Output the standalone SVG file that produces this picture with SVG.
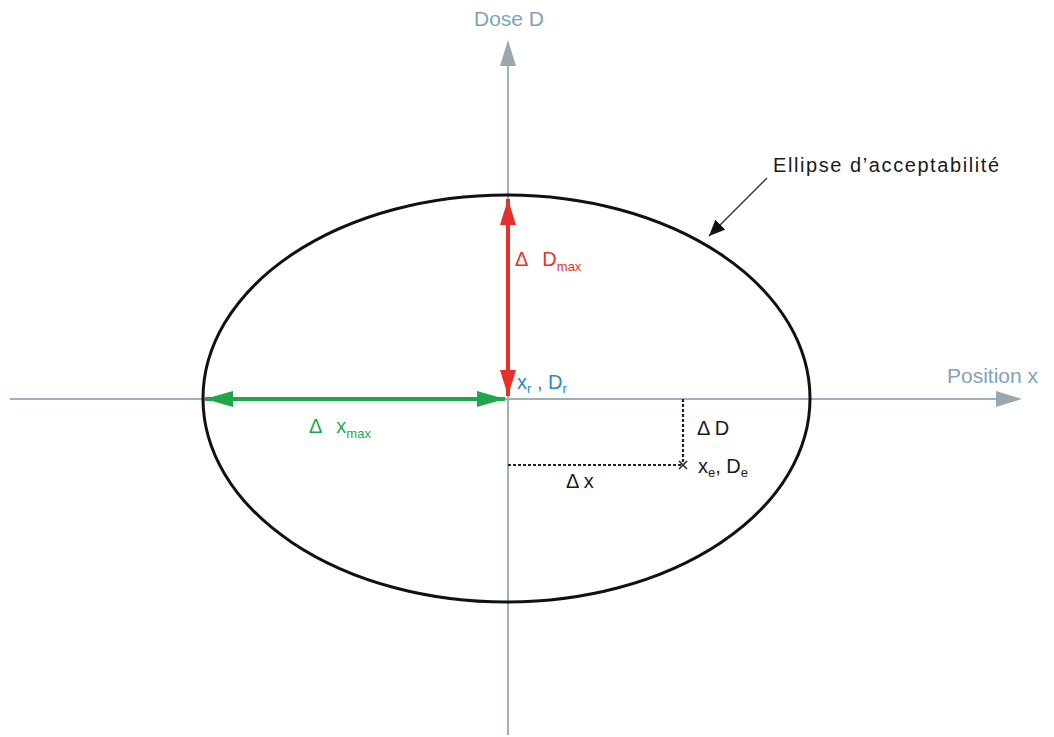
<svg xmlns="http://www.w3.org/2000/svg" width="1054" height="737" viewBox="0 0 1054 737">
<defs>
<style>
text{font-family:"Liberation Sans",Arial,sans-serif;}
.axis{stroke:#9fb0bd;stroke-width:2;fill:none}
.axl{fill:#7ea3bb;font-size:21px}
.blk{fill:#1a1a1a;font-size:20px}
.dot{stroke:#222;stroke-width:2.2;stroke-dasharray:3 2;fill:none}
</style>
<marker id="ar" viewBox="0 0 10 10" refX="10" refY="5" markerWidth="26" markerHeight="16" markerUnits="userSpaceOnUse" orient="auto-start-reverse" preserveAspectRatio="none"><path d="M0,0 L10,5 L0,10 z" fill="#e8302a"/></marker>
<marker id="agr" viewBox="0 0 10 10" refX="10" refY="5" markerWidth="28" markerHeight="16" markerUnits="userSpaceOnUse" orient="auto-start-reverse" preserveAspectRatio="none"><path d="M0,0 L10,5 L0,10 z" fill="#1fa64a"/></marker>
<marker id="ab" viewBox="0 0 10 10" refX="10" refY="5" markerWidth="16" markerHeight="14" markerUnits="userSpaceOnUse" orient="auto" preserveAspectRatio="none"><path d="M0,0 L10,5 L0,10 z" fill="#111"/></marker>
</defs>
<rect width="1054" height="737" fill="#fff"/>
<g id="connectors">
<line class="axis" x1="10" y1="399" x2="1010" y2="399"/>
<path d="M996,391 L1022,399 L996,407 z" fill="#9aa7b1"/>
<line class="axis" x1="508" y1="735" x2="508" y2="58"/>
<path d="M500,66 L508,40 L516,66 z" fill="#9aa7b1"/>
<line x1="508" y1="199" x2="508" y2="396" stroke="#e8302a" stroke-width="4" marker-start="url(#ar)" marker-end="url(#ar)"/>
<line x1="205" y1="399" x2="505" y2="399" stroke="#1fa64a" stroke-width="4" marker-start="url(#agr)" marker-end="url(#agr)"/>
<line x1="767" y1="178" x2="709" y2="236" stroke="#2a3a48" stroke-width="1.5" marker-end="url(#ab)"/>
<line class="dot" x1="683" y1="399" x2="683" y2="465"/>
<line class="dot" x1="508" y1="465" x2="683" y2="465"/>
<path d="M679,461 L687,469 M687,461 L679,469" stroke="#222" stroke-width="1.5"/>
</g>
<g id="ellipse">
<ellipse cx="506.5" cy="398.5" rx="303.5" ry="203.5" fill="none" stroke="#111" stroke-width="3"/>
</g>
<g id="dose-axis-label"><text class="axl" x="474" y="26">Dose D</text></g>
<g id="position-axis-label"><text class="axl" x="947" y="383" font-size="22">Position x</text></g>
<g id="ellipse-label"><text class="blk" x="773" y="172" font-size="23" textLength="226" lengthAdjust="spacing">Ellipse d’acceptabilité</text></g>
<g id="dmax-label"><text x="515" y="266" fill="#e8302a" font-size="20">Δ<tspan dx="14">D</tspan><tspan font-size="13" dy="5">max</tspan></text></g>
<g id="xmax-label"><text x="309" y="433" fill="#1fa64a" font-size="20">Δ<tspan dx="14">x</tspan><tspan font-size="13" dy="5">max</tspan></text></g>
<g id="ref-point"><text x="517" y="389" fill="#2f86c8" font-size="20">x<tspan font-size="13" dy="4">r</tspan><tspan dy="-4"> , D</tspan><tspan font-size="13" dy="4">r</tspan></text></g>
<g id="eval-point"><text class="blk" x="698" y="473">x<tspan font-size="13" dy="4">e</tspan><tspan dy="-4">, D</tspan><tspan font-size="13" dy="4">e</tspan></text></g>
<g id="dD-label"><text class="blk" x="697" y="435">Δ D</text></g>
<g id="dx-label"><text class="blk" x="566" y="488">Δ x</text></g>
</svg>
